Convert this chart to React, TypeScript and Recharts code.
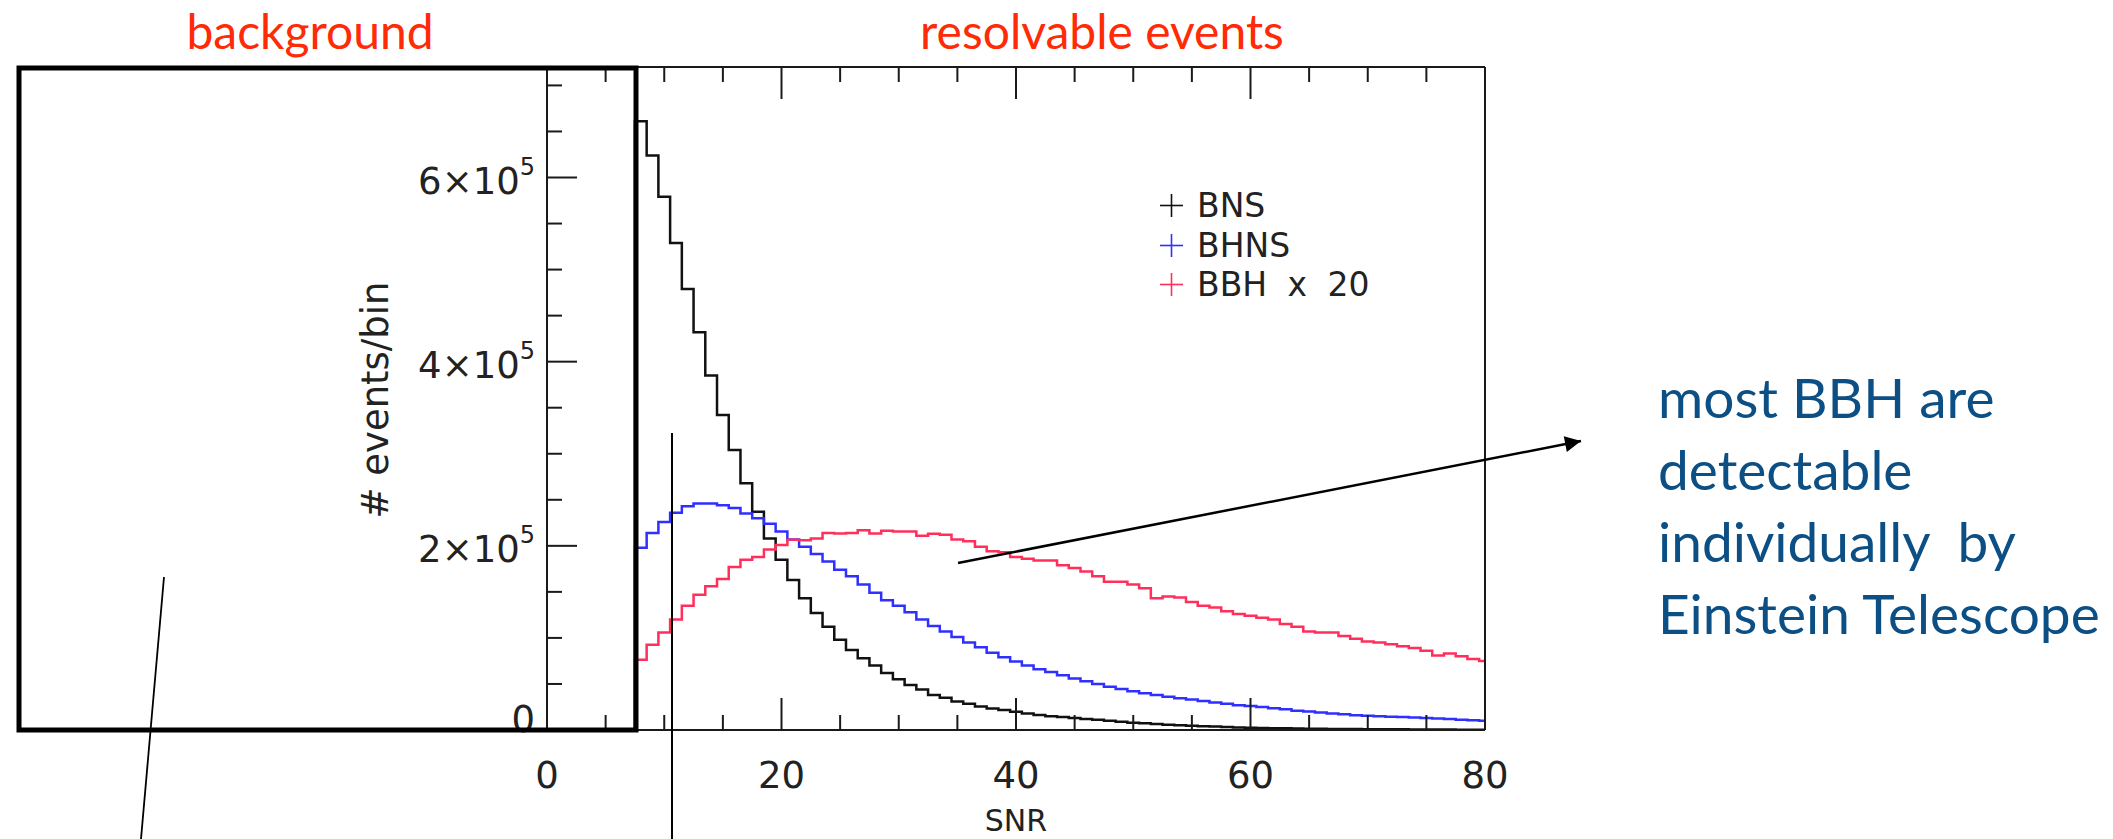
import React from "react";
import { LineChart, Line, XAxis, YAxis, Legend } from "recharts";

// SNR bin centres (bin width 1)
const snrBins = [
  0, 1, 2, 3, 4, 5, 6, 7, 8, 9, 10, 11, 12, 13, 14, 15, 16, 17, 18, 19, 20,
  21, 22, 23, 24, 25, 26, 27, 28, 29, 30, 31, 32, 33, 34, 35, 36, 37, 38, 39, 40,
  41, 42, 43, 44, 45, 46, 47, 48, 49, 50, 51, 52, 53, 54, 55, 56, 57, 58, 59, 60,
  61, 62, 63, 64, 65, 66, 67, 68, 69, 70, 71, 72, 73, 74, 75, 76, 77, 78, 79, 80,
];

const bnsCounts = [
  0, 0, 0, 0, 0, 0, 0, 0,
  661000, 624000, 579000, 529000, 479000, 432000, 385000, 342000, 304000, 268000,
  237000, 208000, 185000, 163000, 143000, 127000, 112000, 98000, 87000, 78000,
  70000, 62000, 55000, 49000, 44000, 38000, 35000, 31000, 28500, 25600,
  23400, 21700, 19900, 18000, 16300, 15000, 14000, 13000, 12000, 11000,
  10000, 9000, 8000, 7200, 6500, 5800, 5200, 4700, 4200, 3700,
  3200, 2800, 2500, 2200, 2000, 1800, 1600, 1400, 1300, 1200,
  1100, 1000, 900, 800, 700, 700, 600, 600, 500, 500,
  400, 400, 400,
];

const bhnsCounts = [
  0, 0, 0, 0, 0, 0, 0, 0,
  198000, 214000, 226000, 236000, 243000, 246000, 246000, 244000, 241000, 235000,
  230000, 224000, 215500, 207000, 199000, 191000, 183000, 174000, 167000, 158000,
  149000, 141000, 135000, 128000, 120000, 113000, 107000, 101000, 95000, 90000,
  84000, 79000, 74500, 70000, 66000, 63000, 59500, 56000, 53000, 50000,
  47000, 44500, 42000, 40000, 38000, 36000, 34500, 33000, 31500, 30000,
  28500, 27000, 26000, 25000, 23500, 22500, 21000, 20000, 19000, 18000,
  17000, 16000, 15500, 15000, 14500, 14000, 13500, 13000, 12500, 12000,
  11000, 10500, 10000,
];

const bbhCountsX20 = [
  0, 0, 0, 0, 0, 0, 0, 0,
  76300, 92500, 106000, 120000, 135000, 147000, 156000, 164000, 177000, 185000,
  188000, 196000, 201000, 206500, 206000, 208000, 214000, 213500, 214000, 217000,
  213500, 216500, 215500, 215500, 211000, 213000, 212000, 207000, 205000, 199000,
  194000, 193000, 188000, 186000, 184000, 184000, 179000, 176000, 172000, 167000,
  161000, 161000, 158000, 154000, 143000, 145000, 144000, 139000, 135000, 133000,
  129000, 126000, 124000, 122000, 120000, 115000, 112000, 107000, 106000, 106000,
  102000, 99000, 96000, 95000, 93000, 91000, 89000, 86000, 81000, 83000,
  80000, 77000, 75000,
];

const xTicks = [0, 5, 10, 15, 20, 25, 30, 35, 40, 45, 50, 55, 60, 65, 70, 75, 80];
const xLabelTicks = [0, 20, 40, 60, 80];
const yTicks = [
  0, 50000, 100000, 150000, 200000, 250000, 300000, 350000, 400000, 450000,
  500000, 550000, 600000, 650000, 700000,
];
const yLabelTicks = [0, 200000, 400000, 600000];
const legendOrder = ["bns", "bhns", "bbh"];

const histData = snrBins.map((snr, i) => ({
  snr,
  bns: bnsCounts[i],
  bhns: bhnsCounts[i],
  bbh: bbhCountsX20[i],
}));

const AXIS = "#1a1a1a";
const FONT = "'DejaVu Sans', sans-serif";
const NOTE_FONT = "Lato, sans-serif";

const BottomTick = ({ x, y, payload }: any) => {
  const major = xLabelTicks.includes(payload.value);
  return (
    <g>
      <line x1={x} x2={x} y1={y} y2={y - (major ? 32 : 15)} stroke={AXIS} strokeWidth={2} />
      {major && (
        <text x={x} y={y + 58} textAnchor="middle" fontSize={37} fontFamily={FONT} fill="#222">
          {payload.value}
        </text>
      )}
    </g>
  );
};

const TopTick = ({ x, y, payload }: any) => {
  const major = xLabelTicks.includes(payload.value);
  return <line x1={x} x2={x} y1={y} y2={y + (major ? 32 : 15)} stroke={AXIS} strokeWidth={2} />;
};

const LeftTick = ({ x, y, payload }: any) => {
  const v = payload.value;
  const major = yLabelTicks.includes(v);
  return (
    <g>
      <line x1={x} x2={x + (major ? 30 : 15)} y1={y} y2={y} stroke={AXIS} strokeWidth={2} />
      {major && (
        <text
          x={x - 12}
          y={v === 0 ? y + 2 : y + 16}
          textAnchor="end"
          fontSize={37}
          fontFamily={FONT}
          fill="#222"
        >
          {v === 0 ? (
            "0"
          ) : (
            <>
              {`${v / 100000}×10`}
              <tspan dy={-19} fontSize={24}>
                5
              </tspan>
            </>
          )}
        </text>
      )}
    </g>
  );
};

const RightTick = ({ x, y, payload }: any) => {
  const major = yLabelTicks.includes(payload.value);
  return <line x1={x} x2={x - (major ? 30 : 15)} y1={y} y2={y} stroke={AXIS} strokeWidth={2} />;
};

const LegendBox = ({ payload }: any) => {
  const items = [...(payload || [])].sort(
    (a: any, b: any) => legendOrder.indexOf(a.dataKey) - legendOrder.indexOf(b.dataKey)
  );
  return (
    <div
      style={{
        fontFamily: FONT,
        fontSize: 33,
        lineHeight: "39.5px",
        color: "#222",
        wordSpacing: 10,
      }}
    >
      {items.map((item: any) => (
        <div key={item.value} style={{ display: "flex", alignItems: "center", whiteSpace: "nowrap" }}>
          <svg width={23} height={23} style={{ marginRight: 14 }}>
            <line x1={0} x2={23} y1={11.5} y2={11.5} stroke={item.color} strokeWidth={1.6} />
            <line x1={11.5} x2={11.5} y1={0} y2={23} stroke={item.color} strokeWidth={1.6} />
          </svg>
          <span>{item.value}</span>
        </div>
      ))}
    </div>
  );
};

const App = () => {
  return (
    <div style={{ position: "absolute", left: 0, top: 0, width: 2113, height: 839, background: "#fff" }}>
      <LineChart
        width={2113}
        height={839}
        data={histData}
        margin={{ top: 66, right: 627, bottom: 108, left: 546 }}
      >
        <XAxis
          dataKey="snr"
          type="number"
          domain={[0, 80]}
          ticks={xTicks}
          interval={0}
          height={1}
          tickSize={0}
          tickMargin={0}
          tickLine={false}
          axisLine={{ stroke: AXIS, strokeWidth: 2 }}
          tick={(p: any) => <BottomTick {...p} />}
        />
        <XAxis
          xAxisId="top"
          orientation="top"
          dataKey="snr"
          type="number"
          domain={[0, 80]}
          ticks={xTicks}
          interval={0}
          height={1}
          tickSize={0}
          tickMargin={0}
          tickLine={false}
          axisLine={{ stroke: AXIS, strokeWidth: 2 }}
          tick={(p: any) => <TopTick {...p} />}
        />
        <YAxis
          type="number"
          domain={[0, 720000]}
          ticks={yTicks}
          interval={0}
          width={1}
          tickSize={0}
          tickMargin={0}
          tickLine={false}
          axisLine={{ stroke: AXIS, strokeWidth: 2 }}
          tick={(p: any) => <LeftTick {...p} />}
        />
        <YAxis
          yAxisId="right"
          orientation="right"
          type="number"
          domain={[0, 720000]}
          ticks={yTicks}
          interval={0}
          width={1}
          tickSize={0}
          tickMargin={0}
          tickLine={false}
          axisLine={{ stroke: AXIS, strokeWidth: 2 }}
          tick={(p: any) => <RightTick {...p} />}
        />
        <Legend
          layout="vertical"
          align="center"
          verticalAlign="middle"
          wrapperStyle={{ left: 1160, top: 186, width: 320 }}
          content={(p: any) => <LegendBox {...p} />}
        />
        <Line
          type="step"
          dataKey="bns"
          name="BNS"
          stroke="#111111"
          strokeWidth={2.5}
          dot={false}
          isAnimationActive={false}
        />
        <Line
          type="step"
          dataKey="bhns"
          name="BHNS"
          stroke="#2f2fff"
          strokeWidth={2.5}
          dot={false}
          isAnimationActive={false}
        />
        <Line
          type="step"
          dataKey="bbh"
          name="BBH x 20"
          stroke="#ff2f5c"
          strokeWidth={2.5}
          dot={false}
          isAnimationActive={false}
        />
      </LineChart>

      {/* slide annotations on top of the plot */}
      <svg
        width={2113}
        height={839}
        style={{ position: "absolute", left: 0, top: 0, pointerEvents: "none" }}
      >
        <defs>
          <marker
            id="arrowHead"
            viewBox="0 0 10 10"
            refX="10"
            refY="5"
            markerWidth="18"
            markerHeight="16"
            markerUnits="userSpaceOnUse"
            orient="auto"
          >
            <path d="M0,0 L10,5 L0,10 z" fill="#000" />
          </marker>
        </defs>
        <rect x={19} y={68} width={617} height={662} fill="none" stroke="#000" strokeWidth={5} />
        <line x1={672} y1={433} x2={672} y2={839} stroke="#000" strokeWidth={2} />
        <line x1={164} y1={577} x2={141} y2={839} stroke="#000" strokeWidth={1.8} />
        <line x1={958} y1={563} x2={1581} y2={441} stroke="#000" strokeWidth={2.5} markerEnd="url(#arrowHead)" />

        <text x={310} y={49} textAnchor="middle" fontFamily={NOTE_FONT} fontSize={48} fill="#ff2a06">
          background
        </text>
        <text x={1102} y={49} textAnchor="middle" fontFamily={NOTE_FONT} fontSize={48} fill="#ff2a06">
          resolvable events
        </text>

        <g fontFamily={NOTE_FONT} fontSize={55} fill="#0c4f85">
          <text x={1658} y={418}>most BBH are</text>
          <text x={1658} y={490}>detectable</text>
          <text x={1658} y={562} xmlSpace="preserve" style={{ whiteSpace: "pre" }}>
            {"individually  by"}
          </text>
          <text x={1658} y={634}>Einstein Telescope</text>
        </g>

        <text
          transform="translate(388,400) rotate(-90)"
          textAnchor="middle"
          fontFamily={FONT}
          fontSize={37}
          fill="#222"
        >
          # events/bin
        </text>
        <text x={1016} y={831} textAnchor="middle" fontFamily={FONT} fontSize={30} fill="#222">
          SNR
        </text>
      </svg>
    </div>
  );
};

export default App;
